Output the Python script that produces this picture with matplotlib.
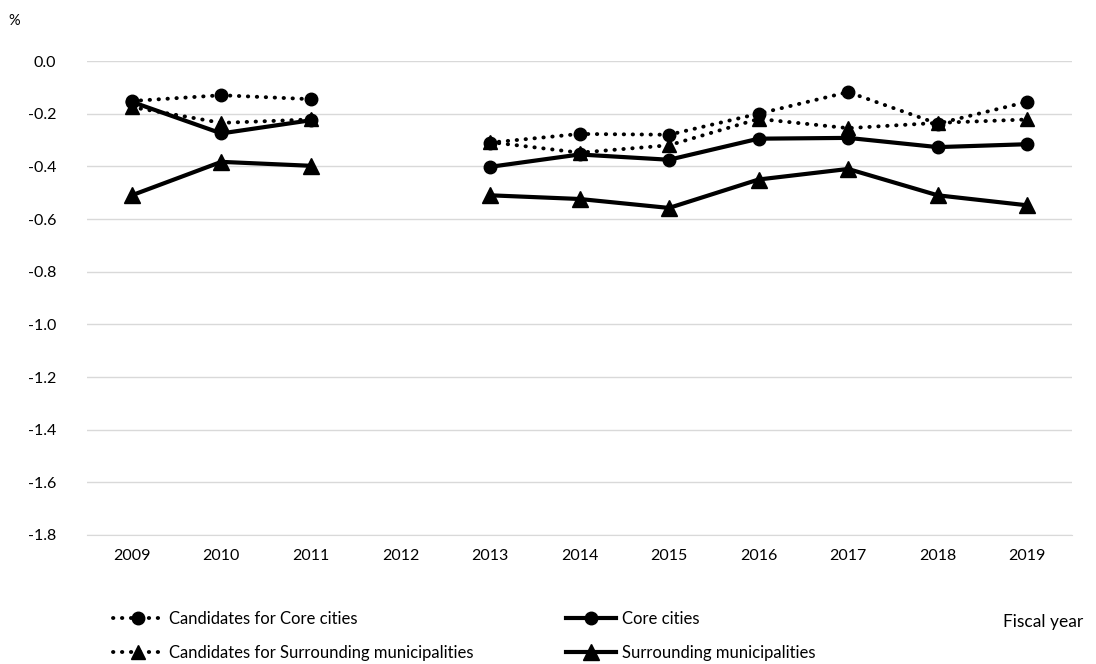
import numpy as np
import matplotlib
matplotlib.use('Agg')
import matplotlib.pyplot as plt

plt.rcParams['font.family'] = ['Lato', 'DejaVu Sans']

years = ['2009', '2010', '2011', '2012', '2013', '2014', '2015', '2016', '2017', '2018', '2019']
nan = np.nan
cand_core = [-0.152, -0.130, -0.145, nan, -0.310, -0.277, -0.280, -0.200, -0.118, -0.238, -0.155]
cand_surr = [-0.175, -0.235, -0.222, nan, -0.308, -0.348, -0.320, -0.220, -0.255, -0.235, -0.222]
core = [-0.155, -0.275, -0.225, nan, -0.402, -0.355, -0.375, -0.295, -0.292, -0.327, -0.316]
surr = [-0.510, -0.383, -0.398, nan, -0.510, -0.524, -0.558, -0.450, -0.410, -0.510, -0.548]

fig = plt.figure(figsize=(10.96, 6.64), dpi=100)
ax = fig.add_axes([87/1096, 1 - 535/664, (1072-87)/1096, (535-61)/664])

x = np.arange(len(years))
dot = (0, (0.1, 2.2))
l1, = ax.plot(x, cand_core, ls=dot, lw=2.8, color='k', marker='o', ms=9,
              dash_capstyle='round', label='Candidates for Core cities')
l2, = ax.plot(x, cand_surr, ls=dot, lw=2.8, color='k', marker='^', ms=10,
              dash_capstyle='round', label='Candidates for Surrounding municipalities')
l3, = ax.plot(x, core, ls='-', lw=3, color='k', marker='o', ms=9,
              label='Core cities')
l4, = ax.plot(x, surr, ls='-', lw=3, color='k', marker='^', ms=12,
              label='Surrounding municipalities')

ax.set_xlim(-0.5, len(years) - 0.5)
ax.set_ylim(-1.8, 0.0)
yt = np.arange(-1.8, 0.01, 0.2)
ax.set_yticks(yt)
ax.set_yticklabels(['%.1f' % v if abs(v) > 1e-9 else '0.0' for v in yt])
ax.set_xticks(x)
ax.set_xticklabels(years)
ax.tick_params(axis='both', length=0, labelsize=11.5, colors='#000000')
ax.tick_params(axis='x', pad=10)
ax.tick_params(axis='y', pad=22)
ax.grid(axis='y', color='#d9d9d9', lw=1)
ax.set_axisbelow(True)
for s in ['top', 'left', 'right']:
    ax.spines[s].set_visible(False)
ax.spines['bottom'].set_color('#d9d9d9')
ax.spines['bottom'].set_zorder(0)

fig.text(8/1096, 1 - 21/664, '%', fontsize=10.5, va='center', ha='left')
fig.text(1003/1096, 1 - 622/664, 'Fiscal year', fontsize=12.5, va='center', ha='left')

fig.legend(handles=[l1, l2, l3, l4], ncol=2, frameon=False, fontsize=12,
           loc='upper left', bbox_to_anchor=(106/1096, 1 - 604/664),
           handlelength=3.0, handletextpad=0.4, columnspacing=5.5,
           labelspacing=1.1, borderaxespad=0)

fig.savefig('out.png', dpi=100)
